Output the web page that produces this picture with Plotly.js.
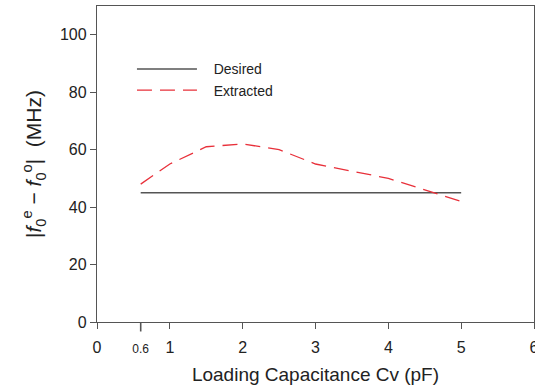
<!DOCTYPE html>
<html><head><meta charset="utf-8">
<script src="https://cdn.plot.ly/plotly-3.0.1.min.js"></script>
<style>body{margin:0;background:#fff}#c{width:535px;height:391px}</style>
</head><body><div id="c"></div>
<script>
const desiredX = [0.6, 5];
const desiredY = [45, 45];
const extractedX = [0.6, 1, 1.5, 2, 2.5, 3, 3.5, 4, 4.5, 5];
const extractedY = [48, 55, 61, 62, 60, 55, 52.5, 50, 46, 42];
const xTickVals = [0, 0.6, 1, 2, 3, 4, 5, 6];
const xTickText = ['0', '<span style="font-size:12px">0.6</span>', '1', '2', '3', '4', '5', '6'];
const yTickVals = [0, 20, 40, 60, 80, 100];

const traces = [
  {x: desiredX, y: desiredY, name: '\u00a0\u00a0\u00a0Desired', mode: 'lines', line: {color: '#555555', width: 1.5}},
  {x: extractedX, y: extractedY, name: '\u00a0\u00a0\u00a0Extracted', mode: 'lines', line: {color: '#e8303a', width: 1.3, dash: '15px,8px'}}
];
const layout = {
  width: 535, height: 391,
  margin: {l: 97, r: 1, t: 6, b: 69},
  paper_bgcolor: '#fff', plot_bgcolor: '#fff',
  font: {family: 'Liberation Sans, Arial, sans-serif', color: '#222'},
  showlegend: true,
  legend: {x: 0.08, y: 0.85, xanchor: 'left', yanchor: 'top', bgcolor: 'rgba(0,0,0,0)',
           font: {size: 14, color: '#222'}, itemwidth: 60, tracegroupgap: 0},
  xaxis: {range: [0, 6], tickmode: 'array', tickvals: xTickVals, ticktext: xTickText,
          ticks: 'outside', ticklen: 6, tickcolor: '#555', showline: true, linecolor: '#555', linewidth: 1.2,
          mirror: true, showgrid: false, zeroline: false, tickfont: {size: 16},
          ticklabeloverflow: 'allow', ticklabelstandoff: 5,
          title: {text: 'Loading Capacitance Cv (pF)', font: {size: 19}, standoff: 12}},
  yaxis: {range: [0, 110], tickmode: 'array', tickvals: yTickVals,
          ticks: 'outside', ticklen: 6, tickcolor: '#555', showline: true, linecolor: '#555', linewidth: 1.2,
          mirror: true, showgrid: false, zeroline: false, tickfont: {size: 16},
          title: {text: '|<i>f</i><sub>0</sub><sup>e</sup> − <i>f</i><sub>0</sub><sup>o</sup>|  (MHz)', font: {size: 21}, standoff: 12}},
  shapes: [{type: 'line', xref: 'x', yref: 'paper', x0: 0.6, x1: 0.6, y0: 0, y1: -0.03, line: {color: '#555', width: 1.6}}]
};
Plotly.newPlot('c', traces, layout, {displayModeBar: false, staticPlot: true});
</script></body></html>
